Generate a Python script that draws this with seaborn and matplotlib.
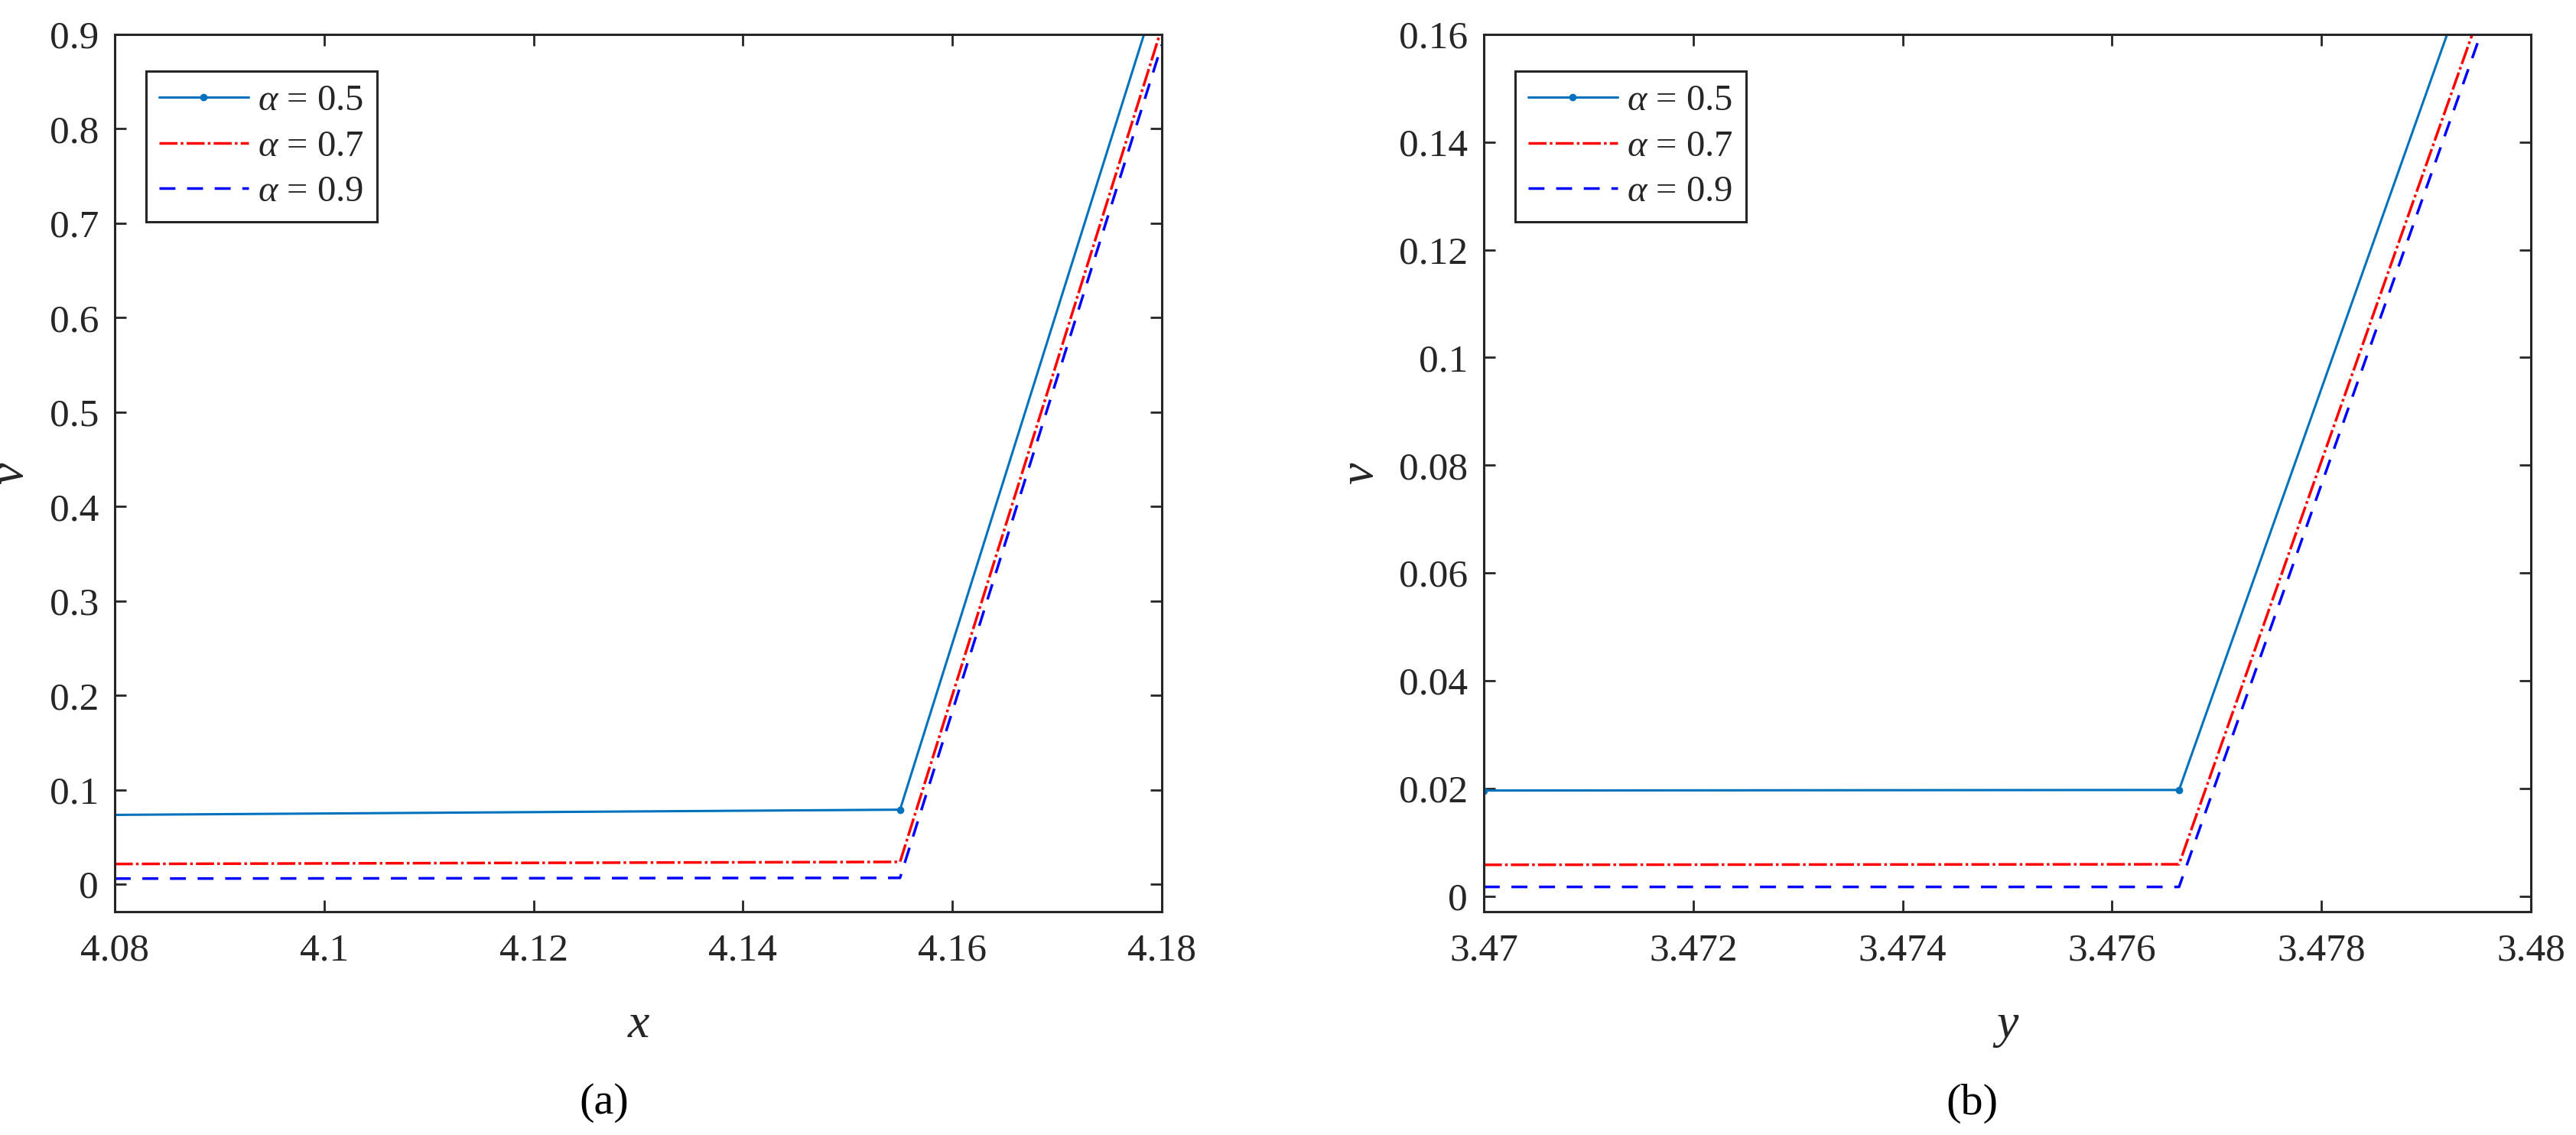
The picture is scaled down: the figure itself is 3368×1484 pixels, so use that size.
import os
import matplotlib
matplotlib.use("Agg")
import matplotlib.pyplot as plt
from matplotlib.font_manager import FontProperties
import seaborn as sns
import pandas as pd

# ---- data ----
labels = [r"$\alpha$ = 0.5", r"$\alpha$ = 0.7", r"$\alpha$ = 0.9"]

# panel (a): v against x
xa_05 = [4.08, 4.155, 4.1783]
va_05 = [0.0735, 0.079, 0.9]
xa_07 = [4.08, 4.155, 4.1798]
va_07 = [0.0215, 0.0237, 0.9]
xa_09 = [4.08, 4.155, 4.18]
va_09 = [0.006, 0.0068, 0.889]

# panel (b): v against y
xb_05 = [3.47, 3.47664, 3.4792]
vb_05 = [0.0196, 0.0197, 0.16]
xb_07 = [3.47, 3.47664, 3.47944]
vb_07 = [0.0058, 0.0059, 0.16]
xb_09 = [3.47, 3.47664, 3.47952]
vb_09 = [0.0017, 0.0017, 0.16]

xticks_a = [4.08, 4.10, 4.12, 4.14, 4.16, 4.18]
xtick_labels_a = ["4.08", "4.1", "4.12", "4.14", "4.16", "4.18"]
yticks_a = [0, 0.1, 0.2, 0.3, 0.4, 0.5, 0.6, 0.7, 0.8, 0.9]
ytick_labels_a = ["0", "0.1", "0.2", "0.3", "0.4", "0.5", "0.6", "0.7", "0.8", "0.9"]

xticks_b = [3.470, 3.472, 3.474, 3.476, 3.478, 3.480]
xtick_labels_b = ["3.47", "3.472", "3.474", "3.476", "3.478", "3.48"]
yticks_b = [0, 0.02, 0.04, 0.06, 0.08, 0.10, 0.12, 0.14, 0.16]
ytick_labels_b = ["0", "0.02", "0.04", "0.06", "0.08", "0.1", "0.12", "0.14", "0.16"]

# ---- style ----
sns.set_theme(style="ticks")
plt.rcParams["font.family"] = "serif"
plt.rcParams["font.serif"] = ["Liberation Serif", "DejaVu Serif"]
plt.rcParams["mathtext.fontset"] = "custom"
plt.rcParams["mathtext.rm"] = "Liberation Serif"
plt.rcParams["mathtext.it"] = "Liberation Serif:italic"
plt.rcParams["lines.scale_dashes"] = False

LIB = "/usr/share/fonts/truetype/liberation/"


def serif_font(size, italic=False):
    path = LIB + ("LiberationSerif-Italic.ttf" if italic else "LiberationSerif-Regular.ttf")
    if os.path.exists(path):
        return FontProperties(fname=path, size=size)
    return FontProperties(family=["Liberation Serif", "DejaVu Serif"],
                          style="italic" if italic else "normal", size=size)


AX_COL = "#262626"
C_05 = "#0072BD"
C_07 = "#FF0000"
C_09 = "#0000FF"
DASHDOT = (0, (17, 3, 2.5, 3))
DASHED = (0, (15, 11))

fig = plt.figure(figsize=(33.68, 14.84), dpi=100)
ax_a = fig.add_axes([0.04454, 0.19677, 0.40647, 0.77291])
ax_b = fig.add_axes([0.57601, 0.19677, 0.40647, 0.77291])


def draw_panel(ax, xs, vs, marks, xlim, ylim, xt, xtl, yt, ytl, xlabel):
    styles = [
        dict(color=C_05, linestyle="-", linewidth=2.2, marker="o", markersize=7,
             markeredgewidth=0, markeredgecolor=C_05, markevery=marks),
        dict(color=C_07, linestyle=DASHDOT, linewidth=2.5),
        dict(color=C_09, linestyle=DASHED, linewidth=2.5),
    ]
    for x, v, lab, st in zip(xs, vs, labels, styles):
        df = pd.DataFrame({"x": x, "v": v})
        sns.lineplot(data=df, x="x", y="v", ax=ax, sort=False, estimator=None,
                     label=lab, **st)

    ax.set_xlim(*xlim)
    ax.set_ylim(*ylim)
    ax.tick_params(direction="in", top=True, right=True, length=11, width=2,
                   color=AX_COL, labelcolor=AX_COL)
    ax.tick_params(axis="x", pad=20)
    ax.tick_params(axis="y", pad=15)
    ax.set_xticks(xt)
    ax.set_xticklabels(xtl, fontproperties=serif_font(37), color=AX_COL)
    ax.set_yticks(yt)
    ax.set_yticklabels(ytl, fontproperties=serif_font(37), color=AX_COL)
    for sp in ax.spines.values():
        sp.set_visible(True)
        sp.set_linewidth(2.2)
        sp.set_color(AX_COL)

    ax.set_xlabel(xlabel, fontproperties=serif_font(46, italic=True), color=AX_COL)
    ax.set_ylabel("v", fontproperties=serif_font(46, italic=True), color=AX_COL)
    ax.xaxis.set_label_coords(0.5, -0.105)

    handles, labs = ax.get_legend_handles_labels()
    leg = ax.legend(handles, labs, loc="upper left", bbox_to_anchor=(0.030, 0.958),
                    borderaxespad=0, frameon=True, fancybox=False,
                    prop=serif_font(35),
                    framealpha=1, edgecolor=AX_COL, handlelength=2.4,
                    handletextpad=0.25, labelspacing=0.32, borderpad=0.35)
    leg.get_frame().set_linewidth(2.2)


draw_panel(ax_a, [xa_05, xa_07, xa_09], [va_05, va_07, va_09], [1],
           (4.08, 4.18), (-0.029, 0.9), xticks_a, xtick_labels_a,
           yticks_a, ytick_labels_a, "x")
draw_panel(ax_b, [xb_05, xb_07, xb_09], [vb_05, vb_07, vb_09], [0, 1],
           (3.47, 3.48), (-0.0029, 0.16), xticks_b, xtick_labels_b,
           yticks_b, ytick_labels_b, "y")

ax_a.yaxis.set_label_coords(-0.078, 0.5)
ax_b.yaxis.set_label_coords(-0.096, 0.5)

# panel captions
fig.text(0.2346, 0.028, "(a)", ha="center", va="center",
         fontproperties=serif_font(42), color="black")
fig.text(0.7657, 0.028, "(b)", ha="center", va="center",
         fontproperties=serif_font(42), color="black")

fig.savefig("out.png", dpi=100)
